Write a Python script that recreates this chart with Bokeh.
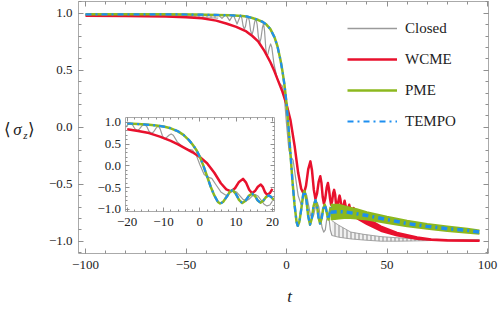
from bokeh.plotting import figure
from bokeh.models import (Range1d, LinearAxis, FixedTicker, Legend, LegendItem,
                          Label, ColumnDataSource)
from bokeh.embed import file_html
from bokeh.resources import INLINE

# ---------------- data ----------------
closed_t = [-100, -80, -62, -34, -32.1, -30.2, -28.3, -26.5, -24.6, -22.8, -22.2, -21.6, -21.0,
            -20.4, -19.8, -19.2, -18.5, -17.9, -17.2, -16.6, -15.9, -15.3, -14.6, -14.0, -13.3,
            -12.7, -12.0, -11.4, -10.9, -10.3, -9.8, -9.2, -8.5, -7.9, -7.3, -6.2, -4.5, -3.2,
            -2.0, -1.0, 0.0, 1.2, 2.2, 3.3, 4.5, 5.8, 7.3, 7.9, 8.6, 9.2, 10.1, 11.0, 11.9, 12.8,
            13.6, 14.5, 15.3, 16.1, 16.9, 17.7, 18.5, 19.3, 20.0, 20.8, 21.3, 21.8, 22.6]
closed_v = [0.985, 0.985, 0.985, 0.985, 0.955, 0.988, 0.935, 0.988, 0.905, 0.985, 0.955, 0.89, 0.86,
            0.885, 0.945, 0.975, 0.935, 0.85, 0.81, 0.845, 0.92, 0.955, 0.90, 0.795, 0.74,
            0.78, 0.87, 0.91, 0.84, 0.69, 0.62, 0.645, 0.70, 0.73, 0.70, 0.55, 0.42, 0.38,
            0.36, 0.25, 0.03, -0.20, -0.26, -0.29, -0.44, -0.60, -0.68, -0.655, -0.59, -0.57,
            -0.60, -0.685, -0.77, -0.80, -0.765, -0.69, -0.66, -0.70, -0.79, -0.88, -0.92, -0.90,
            -0.81, -0.76, -0.82, -0.90, -0.95]
closed_pre_band_t = [-62, -50, -42, -34]
closed_pre_band_lo = [0.982, 0.975, 0.963, 0.955]
closed_pre_band_hi = [0.988, 0.988, 0.988, 0.988]
closed_post_band_t = [22.6, 26, 32, 38.5, 47, 55, 63, 72, 84, 96]
closed_post_band_hi = [-0.82, -0.86, -0.92, -0.94, -0.96, -0.97, -0.978, -0.984, -0.986, -0.986]
closed_post_band_lo = [-0.95, -0.965, -0.98, -0.99, -1.0, -1.0, -0.998, -0.994, -0.99, -0.988]

wcme_t = [-100, -80, -60, -50, -42, -35, -30, -25, -20, -17, -14, -11, -8, -6, -4, -2, 0, 2, 4,
          5.8, 7.3, 8.6, 9.7, 10.8, 11.9, 12.7, 13.6, 14.4, 15.2, 16.0, 16.8, 17.4, 18.0, 18.6,
          19.3, 20.0, 20.6, 21.1, 21.7, 22.2, 22.7, 23.2, 23.7, 24.2, 24.6, 25.1, 25.5, 26.0, 26.4,
          26.8, 27.3, 27.7, 28.9, 30.1, 31.2, 32.3, 33.4, 34.4, 35.0]
wcme_v = [0.978, 0.975, 0.97, 0.965, 0.955, 0.935, 0.91, 0.88, 0.84, 0.80, 0.75, 0.67, 0.57, 0.49,
          0.40, 0.31, 0.20, 0.06, -0.16, -0.40, -0.54, -0.585, -0.515, -0.37, -0.30, -0.38, -0.55,
          -0.63, -0.58, -0.48, -0.43, -0.49, -0.61, -0.67, -0.625, -0.53, -0.49, -0.54, -0.63,
          -0.68, -0.65, -0.58, -0.55, -0.59, -0.67, -0.71, -0.68, -0.63, -0.60, -0.63, -0.70,
          -0.73, -0.645, -0.75, -0.68, -0.77, -0.71, -0.78, -0.76]
wcme_band_t = [35, 40, 47, 55, 65, 72, 80, 96]
wcme_band_hi = [-0.74, -0.80, -0.87, -0.925, -0.965, -0.982, -0.99, -0.994]
wcme_band_lo = [-0.80, -0.85, -0.91, -0.95, -0.98, -0.99, -0.996, -0.998]

pme_t = [-100, -80, -60, -45, -35, -28, -22, -20, -17, -14, -12, -10, -8, -6, -4.5, -3, -2, -1,
         0, 1, 2, 3, 4, 5, 5.6, 6.4, 7.5, 8.3, 9, 9.9, 10.8, 11.7, 12.6, 13.5, 14.4, 15.2, 15.9,
         16.7, 17.5, 18.2, 19, 19.6, 20, 20.4, 20.9, 21.3, 21.6, 22]
pme_v = [0.99, 0.99, 0.99, 0.988, 0.985, 0.982, 0.975, 0.972, 0.958, 0.94, 0.925, 0.90, 0.86, 0.79,
         0.71, 0.59, 0.49, 0.37, 0.21, 0.0, -0.24, -0.48, -0.68, -0.83, -0.865, -0.83, -0.70, -0.59,
         -0.56, -0.64, -0.78, -0.855, -0.80, -0.69, -0.64, -0.69, -0.79, -0.845, -0.80, -0.72,
         -0.68, -0.71, -0.745, -0.78, -0.81, -0.78, -0.73, -0.70]
pme_band_t = [22, 26, 30, 35, 40, 50, 60, 70, 80, 90, 96]
pme_band_hi = [-0.68, -0.68, -0.70, -0.72, -0.745, -0.785, -0.82, -0.85, -0.87, -0.89, -0.905]
pme_band_lo = [-0.81, -0.80, -0.795, -0.80, -0.81, -0.84, -0.87, -0.89, -0.91, -0.925, -0.935]

tempo_t = [-100, -80, -60, -45, -35, -28, -22, -20, -17, -14, -12, -10, -8, -6, -4.5, -3, -2, -1,
           0, 1, 2, 3, 4, 5, 5.6, 6.4, 7.5, 8.3, 9, 9.9, 10.8, 11.7, 12.6, 13.5, 14.4, 15.2, 15.9,
           16.7, 17.5, 18.2, 19, 19.6, 20, 20.4, 20.9, 21.3, 21.6, 22]
tempo_v = [0.99, 0.99, 0.99, 0.988, 0.985, 0.982, 0.975, 0.972, 0.958, 0.94, 0.925, 0.90, 0.86, 0.79,
           0.71, 0.59, 0.49, 0.37, 0.21, 0.0, -0.24, -0.48, -0.68, -0.83, -0.865, -0.83, -0.70, -0.59,
           -0.56, -0.64, -0.78, -0.855, -0.80, -0.69, -0.64, -0.69, -0.79, -0.845, -0.80, -0.72,
           -0.68, -0.71, -0.745, -0.78, -0.81, -0.78, -0.73, -0.70]
tempo_band_t = [22, 26, 30, 35, 40, 50, 60, 70, 80, 90, 96]
tempo_band_v = [-0.745, -0.74, -0.745, -0.76, -0.775, -0.81, -0.845, -0.87, -0.89, -0.905, -0.92]

series_names = ["Closed", "WCME", "PME", "TEMPO"]

main_x_ticks = [-100, -50, 0, 50, 100]
main_x_labels = ["\u2212100", "\u221250", "0", "50", "100"]
main_x_minor = [-100, -90, -80, -70, -60, -50, -40, -30, -20, -10, 0, 10, 20, 30, 40, 50, 60, 70, 80, 90, 100]
main_y_ticks = [-1.0, -0.5, 0.0, 0.5, 1.0]
main_y_labels = ["\u22121.0", "\u22120.5", "0.0", "0.5", "1.0"]
main_y_minor = [-1.1, -1.0, -0.9, -0.8, -0.7, -0.6, -0.5, -0.4, -0.3, -0.2, -0.1, 0.0,
                0.1, 0.2, 0.3, 0.4, 0.5, 0.6, 0.7, 0.8, 0.9, 1.0, 1.1]
inset_x_ticks = [-20, -10, 0, 10, 20]
inset_x_labels = ["\u221220", "\u221210", "0", "10", "20"]
inset_x_minor = [-20, -18, -16, -14, -12, -10, -8, -6, -4, -2, 0, 2, 4, 6, 8, 10, 12, 14, 16, 18, 20]
inset_y_ticks = [-1.0, -0.5, 0.0, 0.5, 1.0]
inset_y_labels = ["\u22121.0", "\u22120.5", "0.0", "0.5", "1.0"]
inset_y_minor = [-1.0, -0.9, -0.8, -0.7, -0.6, -0.5, -0.4, -0.3, -0.2, -0.1, 0.0,
                 0.1, 0.2, 0.3, 0.4, 0.5, 0.6, 0.7, 0.8, 0.9, 1.0]
inset_window = (-20.5, 20.5)

# axis titles: (text, centre x px, centre y px, size, style)
title_parts = [("\u27e8", 7.0, 129.0, "17px", "normal"),
               ("\u03c3", 17.0, 128.5, "17px", "italic"),
               ("z", 24.8, 134.0, "11px", "italic"),
               ("\u27e9", 30.5, 129.0, "17px", "normal"),
               ("t", 289.0, 296.0, "17px", "italic")]

# ---------------- layout / style ----------------
W, H = 498, 310
FL, FR, FT, FB = 78, 488, 0.5, 253       # main plot box (px)
X0, XS = 286.0, 2.01                     # px of t=0, px per unit
Y0, YS = 126.7, 114.0
IL, IR, IT, IB = 124.5, 274.0, 117.0, 210.5   # inset box (px)
IX0, IXS = 199.3, 3.63
IY0, IYS = 165.3, 43.6

FONT = "Liberation Serif"
TXT = "#222222"
FRAME_C = "#aaaaaa"
TICK_C = "#8f8f8f"
GRAY, RED, GREEN, BLUE = "#9a9a9a", "#e8112d", "#8cb81e", "#1e8ff0"
DASH = "6 4 2 4"


def tx(px): return (px - X0) / XS
def vy(py): return (Y0 - py) / YS
def itx(px): return (px - IX0) / IXS
def ivy(py): return (IY0 - py) / IYS


# the frame spans the whole canvas; the visible boxes are drawn by fixed-location axes
p = figure(width=W, height=H, output_backend="svg", toolbar_location=None,
           x_range=Range1d(tx(0), tx(W)), y_range=Range1d(vy(H), vy(0)),
           min_border=0, min_border_left=0, min_border_right=0,
           min_border_top=0, min_border_bottom=0,
           x_axis_location=None, y_axis_location=None,
           outline_line_color=None, background_fill_color="white",
           border_fill_color="white")
p.xgrid.visible = False
p.ygrid.visible = False
p.extra_x_ranges = {"ix": Range1d(itx(0), itx(W))}
p.extra_y_ranges = {"iy": Range1d(ivy(H), ivy(0))}


def make_axis(ticks, minor, labels, major_len, minor_len, standoff=0, **kw):
    ax = LinearAxis(ticker=FixedTicker(ticks=ticks, minor_ticks=minor), **kw)
    ax.major_tick_in = major_len
    ax.major_tick_out = 0
    ax.minor_tick_in = minor_len
    ax.minor_tick_out = 0
    ax.axis_line_color = FRAME_C
    ax.axis_line_width = 1
    ax.major_tick_line_color = TICK_C
    ax.minor_tick_line_color = TICK_C
    ax.major_label_text_font = FONT
    ax.major_label_text_font_size = "13px"
    ax.major_label_text_color = TXT
    if labels is not None:
        ax.major_label_overrides = dict(zip(ticks, labels))
        ax.major_label_standoff = standoff
    else:
        ax.major_label_overrides = {tk: "" for tk in ticks}
        ax.major_label_standoff = 0
    return ax


def draw_curve(t, v, color, width, dash="solid", inset=False):
    if inset:
        pts = [(a, b) for a, b in zip(t, v) if inset_window[0] <= a <= inset_window[1]]
        t = [a for a, _ in pts]
        v = [b for _, b in pts]
        kw = dict(x_range_name="ix", y_range_name="iy")
    else:
        kw = {}
    src = ColumnDataSource(dict(x=t, y=v))
    return p.line("x", "y", source=src, line_color=color, line_width=width,
                  line_dash=dash, line_join="round", **kw)


def draw_band(t, lo, hi, color, edge_w, alpha=1.0, edge_alpha=1.0, hatch=False):
    if hatch:
        p.varea(x=t, y1=lo, y2=hi, fill_color=color, fill_alpha=alpha,
                hatch_pattern="|", hatch_color=color, hatch_scale=4, hatch_weight=1.2)
    else:
        p.varea(x=t, y1=lo, y2=hi, fill_color=color, fill_alpha=alpha)
    p.line(t, lo, line_color=color, line_width=edge_w, line_alpha=edge_alpha)
    p.line(t, hi, line_color=color, line_width=edge_w, line_alpha=edge_alpha)


# main curves
draw_band(closed_pre_band_t, closed_pre_band_lo, closed_pre_band_hi, GRAY, 1.0, 0.3, 0.8, True)
draw_curve(closed_t, closed_v, GRAY, 1.2)
draw_band(closed_post_band_t, closed_post_band_lo, closed_post_band_hi, GRAY, 1.0, 0.15, 0.9, True)
draw_curve(wcme_t, wcme_v, RED, 2.5)
draw_band(wcme_band_t, wcme_band_lo, wcme_band_hi, RED, 2.0)
draw_curve(pme_t, pme_v, GREEN, 2.5)
draw_band(pme_band_t, pme_band_lo, pme_band_hi, GREEN, 2.0)
draw_curve(tempo_t, tempo_v, BLUE, 2.2, DASH)
p.line(tempo_band_t, tempo_band_v, line_color=BLUE, line_width=3.5, line_dash=DASH)

# main box axes
xb = (tx(FL), tx(FR))
yb = (vy(FB), vy(FT))
p.add_layout(make_axis(main_x_ticks, main_x_minor, main_x_labels, 5, 3, 7,
                       fixed_location=vy(FB), bounds=xb), "below")
p.add_layout(make_axis(main_y_ticks, main_y_minor, main_y_labels, 5, 3, 6,
                       fixed_location=tx(FL), bounds=yb), "left")
p.add_layout(make_axis(main_x_ticks, main_x_minor, None, 5, 3,
                       fixed_location=vy(FT), bounds=xb), "above")
p.add_layout(make_axis(main_y_ticks, main_y_minor, None, 5, 3,
                       fixed_location=tx(FR), bounds=yb), "right")

# inset
p.quad(left=[itx(IL)], right=[itx(IR)], bottom=[ivy(IB)], top=[ivy(IT)],
       x_range_name="ix", y_range_name="iy", fill_color="white", line_color=None)
draw_curve(closed_t, closed_v, GRAY, 1.2, inset=True)
draw_curve(wcme_t, wcme_v, RED, 2.5, inset=True)
draw_curve(pme_t, pme_v, GREEN, 2.5, inset=True)
draw_curve(tempo_t, tempo_v, BLUE, 2.2, DASH, inset=True)

ikw = dict(x_range_name="ix", y_range_name="iy")
p.add_layout(make_axis(inset_x_ticks, inset_x_minor, inset_x_labels, 4, 2, 7,
                       fixed_location=ivy(IB), bounds=(itx(IL), itx(IR)), **ikw), "below")
p.add_layout(make_axis(inset_y_ticks, inset_y_minor, inset_y_labels, 4, 2, 4,
                       fixed_location=itx(IL), bounds=(ivy(IB), ivy(IT)), **ikw), "left")
p.add_layout(make_axis(inset_x_ticks, inset_x_minor, None, 4, 2,
                       fixed_location=ivy(IT), bounds=(itx(IL), itx(IR)), **ikw), "above")
p.add_layout(make_axis(inset_y_ticks, inset_y_minor, None, 4, 2,
                       fixed_location=itx(IR), bounds=(ivy(IB), ivy(IT)), **ikw), "right")

# axis titles
for text, cx, cy, size, style in title_parts:
    p.add_layout(Label(x=tx(cx), y=vy(cy), text=text, text_font=FONT, text_font_size=size,
                       text_font_style=style, text_color=TXT, text_align="center",
                       text_baseline="middle"))

# legend (proxy renderers with two points outside the visible boxes)
styles = [(GRAY, 1.3, "solid"), (RED, 2.5, "solid"), (GREEN, 2.5, "solid"), (BLUE, 2.2, DASH)]
items = []
for name, (c, w, d) in zip(series_names, styles):
    r = p.line(x=[tx(-60), tx(-50)], y=[vy(-50), vy(-50)], line_color=c, line_width=w, line_dash=d)
    items.append(LegendItem(label=name, renderers=[r]))
leg = Legend(items=items, location=(347, H - 131), glyph_width=50, glyph_height=20,
             label_height=20, label_standoff=8, spacing=11, padding=0, margin=0,
             label_text_font=FONT, label_text_font_size="15px", label_text_color=TXT,
             border_line_alpha=0, background_fill_alpha=0)
p.add_layout(leg)

open("out.html", "w", encoding="utf-8").write(file_html(p, INLINE))
